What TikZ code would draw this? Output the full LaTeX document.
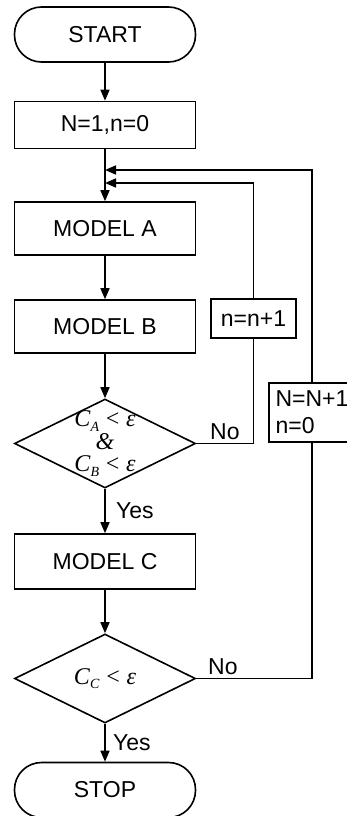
\documentclass[tikz,border=0pt]{standalone}
\usepackage{fontspec}
\setmainfont{Liberation Sans}
\newfontfamily\tms{Liberation Serif}
\usetikzlibrary{shapes.geometric, arrows.meta}
\newcommand{\crit}[1]{\textit{C}\raisebox{-0.4ex}{\fontsize{14}{14}\selectfont\textit{#1}}\;<\;\textit{ε}}
\tikzstyle{startstop} = [rectangle, rounded corners=27pt, minimum width=181pt, minimum height=55pt, text centered, draw=black, line width=1.6pt]
\tikzstyle{process} = [rectangle, minimum width=181pt, minimum height=53pt, text centered, draw=black, line width=1.6pt]
\tikzstyle{update} = [rectangle, minimum width=85pt, minimum height=39pt, inner sep=2pt, draw=black, line width=1.6pt]
\tikzstyle{decision} = [diamond, shape aspect=2, minimum width=181pt, minimum height=89pt, inner sep=-8pt, align=center, draw=black, line width=1.6pt, font=\tms\fontsize{24}{22.5}\selectfont]
\tikzstyle{arrow} = [line width=1.6pt,-{Triangle[length=11pt,width=9pt]}]
\tikzstyle{line} = [line width=1.6pt]

\begin{document}
\begin{tikzpicture}[x=1pt, y=1pt, node distance=100pt, font=\fontsize{23}{27}\selectfont]
\useasboundingbox (0,0) rectangle (347,-816);

\node (start) [startstop] at (105,-34.5) {START};
\node (init) [process, minimum height=47pt, below of=start, yshift=9.5pt] {N=1,n=0};
\node (modelA) [process, below of=init, yshift=-3.5pt] {MODEL A};
\node (modelB) [process, below of=modelA, yshift=2pt] {MODEL B};
\node (cond1) [decision, below of=modelB, yshift=-17pt] {\crit{A}\\\textit{\&}\\\crit{B}};
\node (modelC) [process, minimum height=55pt, below of=cond1, yshift=-18pt] {MODEL C};
\node (cond2) [decision, below of=modelC, yshift=-17pt] {\crit{C}};
\node (stop) [startstop, below of=cond2, yshift=-11.5pt] {STOP};
\node (incn) [update, right of=modelB, xshift=48.5pt, yshift=8pt] {n=n+1};
\node (incN) [update, minimum width=86pt, minimum height=59pt, align=left, right of=cond1, xshift=107pt, yshift=31pt] {N=N+1\\n=0};

\coordinate (join1) at (105,-170);
\coordinate (join2) at (105,-183);

\draw [arrow] (start) -- (init);
\draw [arrow] (init) -- (modelA);
\draw [arrow] (modelA) -- (modelB);
\draw [arrow] (modelB) -- (cond1);
\draw [arrow] (cond1) -- node[anchor=west, xshift=7pt] {Yes} (modelC);
\draw [arrow] (modelC) -- (cond2);
\draw [arrow] (cond2) -- node[anchor=west, xshift=4pt] {Yes} (stop);
\draw [line] (cond1.east) -- node[anchor=south] {No} (cond1.east -| incn) -- (incn);
\draw [arrow] (incn) |- (join2);
\draw [line] (cond2.east) -- node[anchor=south, pos=0.23] {No} (cond2.east -| incN) -- (incN);
\draw [arrow] (incN) |- (join1);

\end{tikzpicture}
\end{document}
